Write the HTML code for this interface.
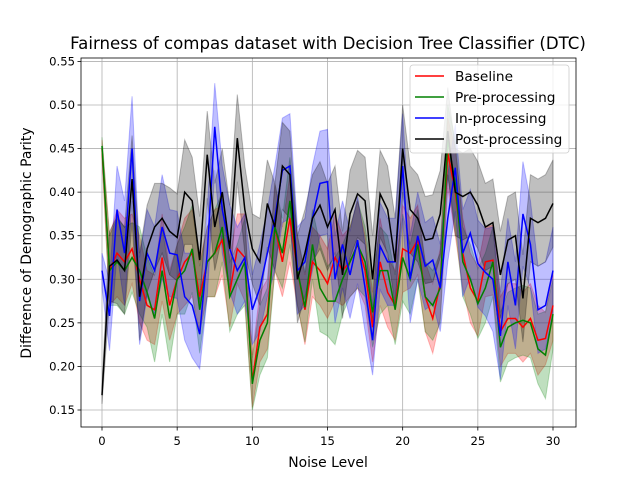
<!DOCTYPE html>
<html><head><meta charset="utf-8"><style>
body{margin:0;background:#fff}
svg text{font-family:"DejaVu Sans","Liberation Sans",sans-serif}
</style></head><body>
<svg id="chart" width="640" height="480" viewBox="0 0 640 480" xmlns="http://www.w3.org/2000/svg">
<rect width="640" height="480" fill="#fff"/>
<text x="328" y="49" font-size="16.6" text-anchor="middle">Fairness of compas dataset with Decision Tree Classifier (DTC)</text>
<text x="328" y="467" font-size="13.9" text-anchor="middle">Noise Level</text>
<text x="31" y="243" font-size="13.9" text-anchor="middle" transform="rotate(-90 31 243)">Difference of Demographic Parity</text>
<g id="grid"></g>
<g id="bands"></g>
<g id="lines"></g>
<g id="axes"></g>
<g id="legend"></g>
</svg>
<script>
const xTicks=[0,5,10,15,20,25,30];
const yTicks=[0.15,0.20,0.25,0.30,0.35,0.40,0.45,0.50,0.55];
const yTickLabels=["0.15","0.20","0.25","0.30","0.35","0.40","0.45","0.50","0.55"];
const seriesNames=["Baseline","Pre-processing","In-processing","Post-processing"];
const baseline=[0.45,0.31,0.33,0.32,0.335,0.30,0.27,0.265,0.325,0.27,0.30,0.32,0.33,0.28,0.32,0.33,0.345,0.285,0.335,0.325,0.183,0.245,0.26,0.36,0.32,0.37,0.31,0.265,0.32,0.31,0.295,0.325,0.31,0.32,0.34,0.31,0.245,0.32,0.285,0.27,0.335,0.33,0.345,0.28,0.255,0.295,0.445,0.40,0.33,0.29,0.275,0.32,0.322,0.24,0.255,0.255,0.245,0.255,0.23,0.232,0.27];
const preproc=[0.453,0.31,0.32,0.31,0.325,0.31,0.285,0.255,0.31,0.255,0.30,0.31,0.335,0.265,0.32,0.33,0.36,0.28,0.30,0.32,0.18,0.23,0.25,0.36,0.33,0.39,0.31,0.268,0.34,0.29,0.275,0.275,0.30,0.32,0.34,0.32,0.262,0.31,0.31,0.265,0.325,0.30,0.34,0.28,0.27,0.29,0.46,0.41,0.32,0.30,0.272,0.29,0.32,0.222,0.245,0.25,0.253,0.25,0.22,0.213,0.26];
const inproc=[0.31,0.258,0.38,0.33,0.45,0.275,0.33,0.31,0.36,0.33,0.328,0.28,0.27,0.237,0.33,0.475,0.38,0.335,0.31,0.325,0.265,0.29,0.33,0.37,0.425,0.43,0.31,0.32,0.37,0.41,0.412,0.30,0.34,0.305,0.345,0.29,0.23,0.338,0.32,0.32,0.43,0.30,0.35,0.315,0.322,0.29,0.37,0.428,0.33,0.353,0.318,0.308,0.30,0.235,0.32,0.27,0.375,0.34,0.265,0.27,0.31];
const postproc=[0.167,0.315,0.322,0.31,0.415,0.28,0.335,0.36,0.37,0.355,0.348,0.40,0.39,0.322,0.443,0.36,0.40,0.335,0.462,0.38,0.335,0.32,0.387,0.36,0.43,0.42,0.30,0.33,0.37,0.385,0.36,0.38,0.305,0.375,0.398,0.39,0.30,0.398,0.38,0.32,0.45,0.38,0.37,0.345,0.347,0.375,0.47,0.40,0.395,0.40,0.385,0.36,0.365,0.305,0.345,0.35,0.278,0.37,0.365,0.37,0.387];
const spreadBase=[0.01,0.04,0.05,0.05,0.04,0.05,0.04,0.04,0.05,0.04,0.04,0.05,0.05,0.04,0.04,0.05,0.04,0.04,0.04,0.05,0.03,0.04,0.04,0.05,0.04,0.05,0.04,0.04,0.04,0.04,0.04,0.05,0.04,0.04,0.05,0.04,0.04,0.05,0.04,0.04,0.05,0.04,0.04,0.04,0.04,0.04,0.04,0.05,0.04,0.04,0.04,0.04,0.04,0.04,0.04,0.04,0.04,0.04,0.04,0.03,0.04];
const spreadPre=[0.01,0.04,0.05,0.05,0.04,0.05,0.04,0.05,0.05,0.05,0.04,0.05,0.05,0.05,0.04,0.05,0.04,0.04,0.04,0.05,0.03,0.04,0.04,0.05,0.04,0.05,0.04,0.04,0.04,0.05,0.04,0.05,0.04,0.04,0.05,0.04,0.04,0.05,0.04,0.04,0.05,0.04,0.04,0.04,0.04,0.04,0.04,0.05,0.04,0.04,0.04,0.04,0.04,0.04,0.04,0.04,0.04,0.04,0.04,0.05,0.04];
const spreadIn=[0.02,0.04,0.05,0.06,0.06,0.05,0.05,0.05,0.06,0.05,0.05,0.05,0.06,0.04,0.05,0.05,0.05,0.05,0.05,0.05,0.04,0.05,0.05,0.06,0.06,0.06,0.05,0.05,0.06,0.06,0.06,0.05,0.05,0.05,0.05,0.05,0.04,0.05,0.05,0.05,0.06,0.05,0.05,0.05,0.05,0.05,0.05,0.05,0.05,0.05,0.05,0.05,0.06,0.05,0.05,0.05,0.06,0.05,0.05,0.05,0.05];
const spreadPost=[0.01,0.04,0.05,0.05,0.05,0.05,0.05,0.05,0.04,0.05,0.05,0.06,0.05,0.05,0.05,0.05,0.05,0.05,0.05,0.05,0.04,0.05,0.05,0.05,0.05,0.05,0.05,0.05,0.05,0.05,0.05,0.05,0.05,0.05,0.05,0.05,0.05,0.05,0.05,0.05,0.05,0.05,0.05,0.05,0.05,0.05,0.05,0.05,0.05,0.05,0.05,0.05,0.05,0.05,0.05,0.05,0.05,0.05,0.05,0.05,0.05];

const NS="http://www.w3.org/2000/svg";
const L=81,R=576,T=58,B=427;
const xs=v=>102+v*(553-102)/30;
const ys=v=>410-(v-0.15)*(410-105)/0.35;
function mk(tag,attrs,parent){const e=document.createElementNS(NS,tag);for(const k in attrs)e.setAttribute(k,attrs[k]);parent.appendChild(e);return e;}
const grid=document.getElementById('grid'),axes=document.getElementById('axes'),bands=document.getElementById('bands'),lines=document.getElementById('lines'),leg=document.getElementById('legend');
xTicks.forEach(t=>{
  const g=mk('line',{x1:xs(t),x2:xs(t),y1:T,y2:B,stroke:'#b0b0b0','stroke-width':0.8},grid);
  
  const tk=mk('line',{x1:xs(t),x2:xs(t),y1:B,y2:B+3.5,stroke:'#000','stroke-width':0.8},axes);
  
  const tx=mk('text',{x:xs(t),y:B+18,'font-size':11.6,'text-anchor':'middle'},axes);tx.textContent=String(t);
  
});
yTicks.forEach((t,i)=>{
  const g=mk('line',{x1:L,x2:R,y1:ys(t),y2:ys(t),stroke:'#b0b0b0','stroke-width':0.8},grid);
  
  const tk=mk('line',{x1:L-3.5,x2:L,y1:ys(t),y2:ys(t),stroke:'#000','stroke-width':0.8},axes);
  
  const tx=mk('text',{x:L-6,y:ys(t)+4,'font-size':11.6,'text-anchor':'end'},axes);tx.textContent=yTickLabels[i];
  
});
const fr=mk('rect',{x:L,y:T,width:R-L,height:B-T,fill:'none',stroke:'#000','stroke-width':0.8},axes);

const series=[[baseline,spreadBase,'red'],[preproc,spreadPre,'green'],[inproc,spreadIn,'blue'],[postproc,spreadPost,'black']];
const xv=i=>i*0.5;
series.forEach(([d,s,c],k)=>{
  let up=d.map((v,i)=>xs(xv(i))+','+ys(v+s[i])).join(' ');
  let lo=d.map((v,i)=>xs(xv(i))+','+ys(v-s[i])).reverse().join(' ');
  const b=mk('polygon',{points:up+' '+lo,fill:c,'fill-opacity':0.25,stroke:c,'stroke-opacity':0.25},bands);
  
});
series.forEach(([d,s,c],k)=>{
  const p=mk('polyline',{points:d.map((v,i)=>xs(xv(i))+','+ys(v)).join(' '),fill:'none',stroke:c,'stroke-width':1.5},lines);
  
});
const lb=mk('rect',{x:410,y:65,width:159,height:88,rx:3,fill:'#fff','fill-opacity':0.8,stroke:'#ccc','stroke-width':0.8},leg);

series.forEach(([d,s,c],k)=>{
  const y=76+k*21;
  const ln=mk('line',{x1:415,x2:444,y1:y,y2:y,stroke:c,'stroke-width':1.5},leg);
  
  const t=mk('text',{x:455,y:y+5,'font-size':13.7},leg);t.textContent=seriesNames[k];
  
});
</script>
</body></html>
